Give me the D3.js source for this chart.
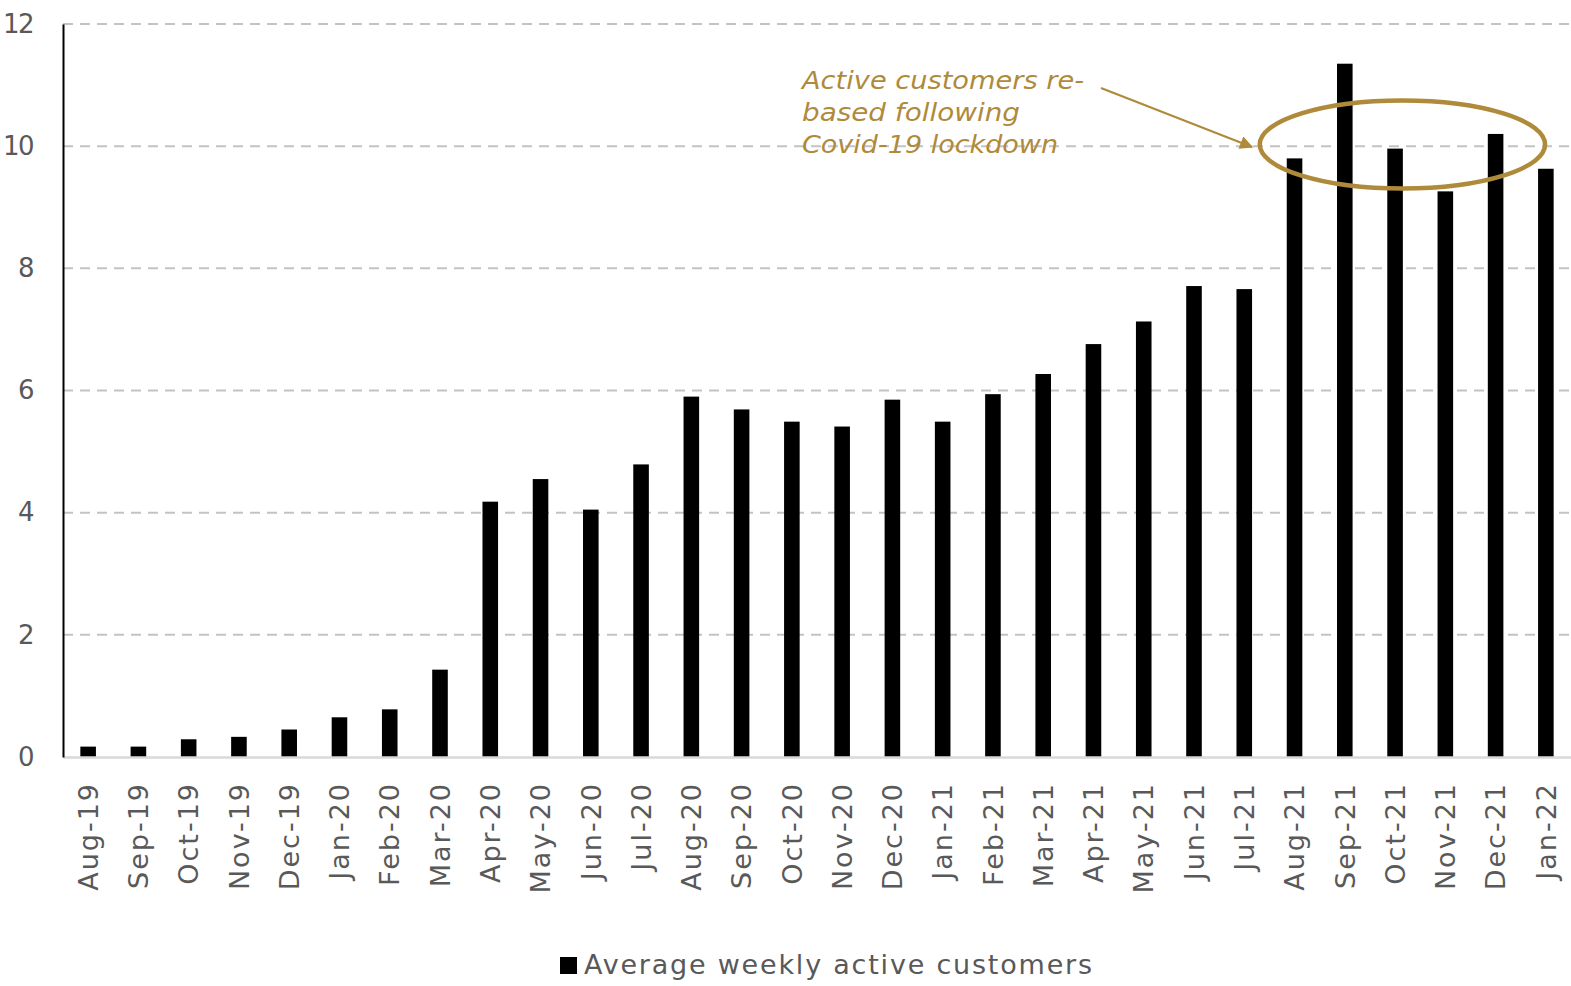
<!DOCTYPE html>
<html>
<head>
<meta charset="utf-8">
<script src="https://cdn.jsdelivr.net/npm/d3@7"></script>
<style>
  html, body { margin: 0; padding: 0; background: #ffffff; }
  svg { display: block; }
  text { font-family: "DejaVu Sans", sans-serif; }
</style>
</head>
<body>
<svg id="chart" width="1571" height="986"></svg>
<script>
// Monthly average weekly active customers
const months = ["Aug-19","Sep-19","Oct-19","Nov-19","Dec-19","Jan-20","Feb-20","Mar-20","Apr-20","May-20",
  "Jun-20","Jul-20","Aug-20","Sep-20","Oct-20","Nov-20","Dec-20","Jan-21","Feb-21","Mar-21",
  "Apr-21","May-21","Jun-21","Jul-21","Aug-21","Sep-21","Oct-21","Nov-21","Dec-21","Jan-22"];
const activeCustomers = [0.17, 0.17, 0.29, 0.33, 0.45, 0.65, 0.78, 1.43, 4.18, 4.55,
  4.05, 4.79, 5.90, 5.69, 5.49, 5.41, 5.85, 5.49, 5.94, 6.27,
  6.76, 7.13, 7.71, 7.66, 9.80, 11.35, 9.96, 9.26, 10.20, 9.63];
const yTicks = [0, 2, 4, 6, 8, 10, 12];
const seriesName = "Average weekly active customers";
const noteLines = ["Active customers re-", "based following", "Covid-19 lockdown"];
// months highlighted by the ellipse
const rebasedMonths = ["Aug-21", "Jan-22"];

const gold = "#AF8A3A";
const textGrey = "#595959";

const svg = d3.select("#chart");
const plot = { left: 63, right: 1571, top: 24, bottom: 757 };

const x = d3.scaleBand().domain(months).range([plot.left, plot.right]).paddingInner(0.69).paddingOuter(0.345);
const y = d3.scaleLinear().domain([0, 12]).range([plot.bottom, plot.top]);

// dashed horizontal gridlines
svg.append("g")
  .selectAll("line")
  .data(yTicks.filter(d => d > 0))
  .join("line")
  .attr("x1", plot.left).attr("x2", plot.right)
  .attr("y1", d => y(d)).attr("y2", d => y(d))
  .attr("stroke", "#c3c3c3").attr("stroke-width", 2)
  .attr("stroke-dasharray", "10,7");

// bars
svg.append("g")
  .selectAll("rect")
  .data(months.map((m, i) => ({ m, v: activeCustomers[i] })))
  .join("rect")
  .attr("x", d => x(d.m))
  .attr("width", x.bandwidth())
  .attr("y", d => y(d.v))
  .attr("height", d => y(0) - y(d.v))
  .attr("fill", "#000000");

// x axis
const xAxis = svg.append("g")
  .attr("transform", `translate(0,${plot.bottom})`)
  .call(d3.axisBottom(x).tickSize(0).tickSizeOuter(0));
xAxis.select(".domain").attr("stroke", "#d9d9d9").attr("stroke-width", 2.5);
xAxis.selectAll("text")
  .attr("transform", "rotate(-90)")
  .attr("x", -25).attr("y", 0).attr("dy", "0.36em")
  .style("text-anchor", "end")
  .style("font-size", "27px")
  .style("letter-spacing", "2px")
  .style("font-family", "'DejaVu Sans', sans-serif")
  .attr("fill", textGrey);

// y axis
const yAxis = svg.append("g")
  .attr("transform", `translate(${plot.left},0)`)
  .call(d3.axisLeft(y).tickValues(yTicks).tickSize(0).tickSizeOuter(0).tickPadding(30));
yAxis.select(".domain").attr("stroke", "#000000").attr("stroke-width", 2);
yAxis.selectAll("text")
  .style("font-size", "26px")
  .style("letter-spacing", "-1.5px")
  .style("font-family", "'DejaVu Sans', sans-serif")
  .attr("fill", textGrey);

// annotation text
const note = svg.append("g").attr("fill", gold)
  .style("font-size", "25px").style("font-style", "italic");
const noteWidths = [282, 218, 256];
noteLines.forEach((t, i) => {
  note.append("text")
    .attr("x", 802).attr("y", 89 + i * 32)
    .attr("textLength", noteWidths[i]).attr("lengthAdjust", "spacingAndGlyphs")
    .text(t);
});

// arrow to the highlighted months
svg.append("defs").append("marker")
  .attr("id", "arrowHead")
  .attr("viewBox", "0 0 10 10").attr("refX", 9).attr("refY", 5)
  .attr("markerWidth", 7).attr("markerHeight", 6).attr("markerUnits", "strokeWidth")
  .attr("orient", "auto")
  .append("path").attr("d", "M0,0 L10,5 L0,10 Z").attr("fill", gold);
svg.append("line")
  .attr("x1", 1101).attr("y1", 88).attr("x2", 1252).attr("y2", 147)
  .attr("stroke", gold).attr("stroke-width", 2.2)
  .attr("marker-end", "url(#arrowHead)");

// ellipse around the rebased months
const ex0 = x(rebasedMonths[0]) - 27, ex1 = x(rebasedMonths[1]) + 7;
svg.append("ellipse")
  .attr("cx", (ex0 + ex1) / 2).attr("cy", 144.5)
  .attr("rx", (ex1 - ex0) / 2).attr("ry", 44)
  .attr("fill", "none").attr("stroke", gold).attr("stroke-width", 4.5);

// legend
const legend = svg.append("g");
legend.append("rect").attr("x", 560).attr("y", 957).attr("width", 17).attr("height", 17).attr("fill", "#000000");
legend.append("text").attr("x", 584).attr("y", 974)
  .style("font-size", "27px").attr("fill", textGrey)
  .attr("textLength", 508).attr("lengthAdjust", "spacing")
  .text(seriesName);
</script>
</body>
</html>
